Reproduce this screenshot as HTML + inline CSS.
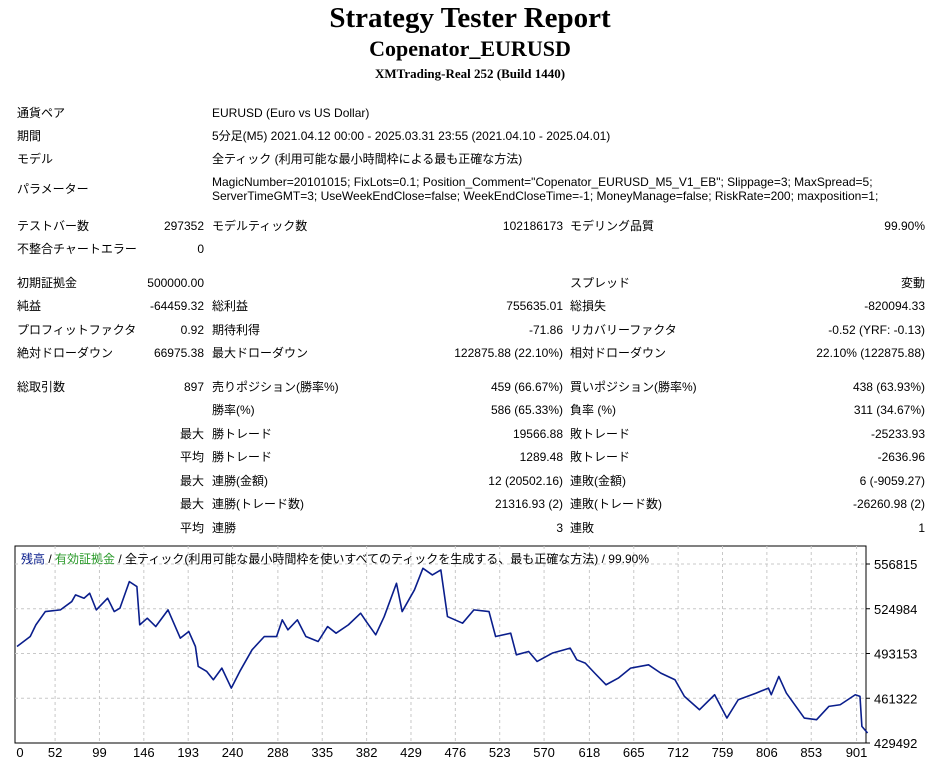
<!DOCTYPE html>
<html><head><meta charset="utf-8">
<style>
body{margin:0;width:940px;height:760px;background:#fff;position:relative;overflow:hidden;font-family:"Liberation Sans","Noto Sans CJK JP",sans-serif;font-size:12px;color:#000}
.t{position:absolute;white-space:nowrap;line-height:14px}
.r{text-align:right}
h1,h2,h3{margin:0;position:absolute;left:0;width:940px;text-align:center;font-family:"Liberation Serif",serif;font-weight:bold}
</style></head><body>
<h1 style="top:2px;font-size:29px">Strategy Tester Report</h1>
<h2 style="top:36px;font-size:22px">Copenator_EURUSD</h2>
<h3 style="top:66px;font-size:13px">XMTrading-Real 252 (Build 1440)</h3>
<div id="tbl"></div>
<svg id="chart" width="940" height="760" style="position:absolute;left:0;top:0"></svg>
<script>
const rows=[
[106,"通貨ペア",null,"EURUSD (Euro vs US Dollar)"],
[129,"期間",null,"5分足(M5) 2021.04.12 00:00 - 2025.03.31 23:55 (2021.04.10 - 2025.04.01)"],
[152,"モデル",null,"全ティック (利用可能な最小時間枠による最も正確な方法)"],
[182,"パラメーター",null,""],
];
const tbl=document.getElementById('tbl');
function cell(x,y,txt,right,w,name){const d=document.createElement('div');d.className='t'+(right?' r':'');
d.style.top=y+'px';if(right){d.style.left=(x-w)+'px';d.style.width=w+'px';}else d.style.left=x+'px';d.textContent=txt;


tbl.appendChild(d);}
rows.forEach((r,i)=>{cell(17,r[0],r[1],false,0,'label-'+i);if(r[3])cell(212,r[0],r[3],false,0,'value-'+i);});
cell(212,175,'MagicNumber=20101015; FixLots=0.1; Position_Comment="Copenator_EURUSD_M5_V1_EB"; Slippage=3; MaxSpread=5;',false,0,'params-line1');
cell(212,189,'ServerTimeGMT=3; UseWeekEndClose=false; WeekEndCloseTime=-1; MoneyManage=false; RiskRate=200; maxposition=1;',false,0,'params-line2');
const stats=[
[219,"テストバー数","297352","モデルティック数","102186173","モデリング品質","99.90%"],
[242,"不整合チャートエラー","0","","","",""],
[276,"初期証拠金","500000.00","","","スプレッド","変動"],
[299,"純益","-64459.32","総利益","755635.01","総損失","-820094.33"],
[323,"プロフィットファクタ","0.92","期待利得","-71.86","リカバリーファクタ","-0.52 (YRF: -0.13)"],
[346,"絶対ドローダウン","66975.38","最大ドローダウン","122875.88 (22.10%)","相対ドローダウン","22.10% (122875.88)"],
[380,"総取引数","897","売りポジション(勝率%)","459 (66.67%)","買いポジション(勝率%)","438 (63.93%)"],
[403,"","","勝率(%)","586 (65.33%)","負率 (%)","311 (34.67%)"],
[427,"","最大","勝トレード","19566.88","敗トレード","-25233.93"],
[450,"","平均","勝トレード","1289.48","敗トレード","-2636.96"],
[474,"","最大","連勝(金額)","12 (20502.16)","連敗(金額)","6 (-9059.27)"],
[497,"","最大","連勝(トレード数)","21316.93 (2)","連敗(トレード数)","-26260.98 (2)"],
[521,"","平均","連勝","3","連敗","1"],
];
stats.forEach((s,i)=>{const y=s[0];
if(s[1])cell(17,y,s[1],false,0,'stat-label-'+i);
if(s[2])cell(204,y,s[2],true,150,'stat-value-'+i);
if(s[3])cell(212,y,s[3],false,0,'stat2-label-'+i);
if(s[4])cell(563,y,s[4],true,200,'stat2-value-'+i);
if(s[5])cell(570,y,s[5],false,0,'stat3-label-'+i);
if(s[6])cell(925,y,s[6],true,200,'stat3-value-'+i);});
</script>
<script>
const trades=[0,14,20,30,46,58,62,71,77,84,96,103,109,119,127,130,138,147,160,173,182,189,192,201,208,217,227,236,249,262,275,281,287,297,306,319,329,338,351,364,370,380,389,402,408,421,430,440,449,456,472,484,500,507,523,529,542,551,567,586,593,602,612,624,637,650,669,682,697,707,723,739,752,764,783,796,799,807,815,834,847,860,872,888,893,895,901];
const balance=[498135,505236,513521,522989,524172,530090,534824,532457,536007,524172,532457,522989,525356,544292,540741,513521,518255,512337,524172,504053,508787,498135,483933,480383,474465,482750,468548,480383,495768,505236,505236,517071,509970,517071,505236,501686,512337,507603,513521,521805,515888,506420,519438,543108,522989,538374,553760,549026,552576,519438,514704,524172,522989,505236,507603,492218,494585,487484,493401,496952,488667,486300,479199,470915,475649,482750,485117,479199,474465,462630,453162,463814,447245,460263,464997,468548,463814,476832,464997,447245,446061,455529,456713,463814,462630,441327,436593];
const yTicks=[429492,461322,493153,524984,556815];
const xTicks=[0,52,99,146,193,240,288,335,382,429,476,523,570,618,665,712,759,806,853,901];
const NS='http://www.w3.org/2000/svg';
const svg=document.getElementById('chart');
const L=15,R=866,T=546,B=743;
const yMin=429492,yMax=556815,yTop=564;
const ys=v=>B-(v-yMin)/(yMax-yMin)*(B-yTop);
const xs=t=>17+t*0.944;
function mk(tag,at,name){const e=document.createElementNS(NS,tag);for(const k in at)e.setAttribute(k,at[k]);


svg.appendChild(e);return e;}
mk('rect',{x:L,y:T,width:R-L,height:B-T,fill:'#fff',stroke:'#000','stroke-width':1},'plot-area');
yTicks.forEach(v=>{const y=ys(v);
if(v!==yMin)mk('line',{x1:L,x2:R,y1:y,y2:y,stroke:'#c8c8c8','stroke-dasharray':'3,3'},'y-gridline');
mk('line',{x1:R,x2:R+4,y1:y,y2:y,stroke:'#000'},'y-tick');
const t=mk('text',{x:R+8,y:y+5,'font-size':13,fill:'#000'},'y-tick-label');t.textContent=v;});
xTicks.forEach((v,i)=>{const x=xs(v)-11;
if(i>0)mk('line',{x1:x,x2:x,y1:T,y2:B,stroke:'#c8c8c8','stroke-dasharray':'3,3'},'x-gridline');
const t=mk('text',{x:Math.max(20,x),y:757,'font-size':13,'text-anchor':'middle',fill:'#000'},'x-tick-label');t.textContent=v;});
mk('polyline',{points:trades.map((t,i)=>xs(t)+','+ys(balance[i])).join(' '),fill:'none',stroke:'#0a1e8c','stroke-width':1.6,'stroke-linejoin':'round'},'balance-line');
const lg=mk('text',{x:21,y:563,'font-size':12},'chart-legend');
[['残高','#0a1e8c'],[' / ','#000'],['有効証拠金','#2a9a2a'],[' / 全ティック(利用可能な最小時間枠を使いすべてのティックを生成する、最も正確な方法) / 99.90%','#000']].forEach(p=>{
const s=document.createElementNS(NS,'tspan');s.setAttribute('fill',p[1]);s.textContent=p[0];


lg.appendChild(s);});
</script>
</body></html>
